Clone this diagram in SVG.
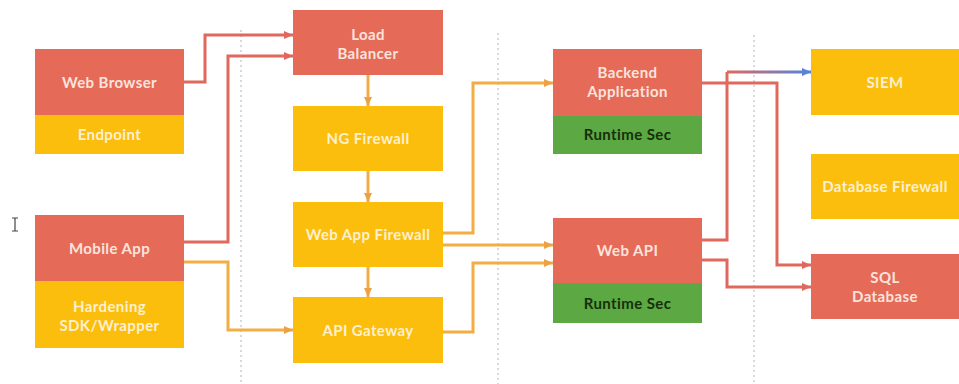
<svg xmlns="http://www.w3.org/2000/svg" width="959" height="384" viewBox="0 0 959 384">
<defs>
<style>
.red{fill:#e66a58}
.yel{fill:#fcbe0c}
.grn{fill:#5ca843}
.t{font-family:Lato,"Open Sans","Liberation Sans",sans-serif;font-weight:700;font-size:15px;letter-spacing:0.4px;text-anchor:middle;dominant-baseline:central}
.tl{fill:#f9e4dc}
.ty{fill:#fdf0d0}
.tg{fill:#16300c}
.div{stroke:#c9cdd5;stroke-width:1.5;stroke-dasharray:2 3;fill:none}
.cr{fill:none;stroke:#e0685d;stroke-width:3}
.co{fill:none;stroke:#f2ad46;stroke-width:3}
.cb{fill:none;stroke:url(#gb);stroke-width:3}
</style>
<linearGradient id="gb" gradientUnits="userSpaceOnUse" x1="727" y1="0" x2="805" y2="0">
<stop offset="0" stop-color="#e0685d"/>
<stop offset="1" stop-color="#5a82d8"/>
</linearGradient>
<marker id="ar" markerUnits="userSpaceOnUse" markerWidth="10" markerHeight="10" refX="9" refY="5" orient="auto"><path d="M0,1 L9,5 L0,9 Z" fill="#e0685d"/></marker>
<marker id="ao" markerUnits="userSpaceOnUse" markerWidth="10" markerHeight="10" refX="9" refY="5" orient="auto"><path d="M0,1 L9,5 L0,9 Z" fill="#eea045"/></marker>
<marker id="ab" markerUnits="userSpaceOnUse" markerWidth="10" markerHeight="10" refX="9" refY="5" orient="auto"><path d="M0,1 L9,5 L0,9 Z" fill="#5a82d8"/></marker>
</defs>
<rect width="959" height="384" fill="#ffffff"/>
<g id="dividers">
<line class="div" x1="241" y1="30" x2="241" y2="384"/>
<line class="div" x1="498" y1="33" x2="498" y2="384"/>
<line class="div" x1="754" y1="35" x2="754" y2="384"/>
</g>
<g id="connectors">
<path class="cr" d="M184,82 H205 V35 H293" marker-end="url(#ar)"/>
<path class="cr" d="M184,242 H228 V56 H293" marker-end="url(#ar)"/>
<path class="co" d="M184,262 H228 V330 H293" marker-end="url(#ao)"/>
<path class="co" d="M368,75 V106" marker-end="url(#ao)"/>
<path class="co" d="M368,171 V202" marker-end="url(#ao)"/>
<path class="co" d="M368,267 V297" marker-end="url(#ao)"/>
<path class="co" d="M443,233 H473 V83 H553" marker-end="url(#ao)"/>
<path class="co" d="M443,245 H553" marker-end="url(#ao)"/>
<path class="co" d="M443,332 H473 V263 H553" marker-end="url(#ao)"/>
<path class="cr" d="M702,83 H777 V265 H811" marker-end="url(#ar)"/>
<path class="cr" d="M702,240 H727 V72"/>
<path class="cb" d="M727,72 H811" marker-end="url(#ab)"/>
<path class="cr" d="M702,260 H727 V287 H811" marker-end="url(#ar)"/>
</g>
<g id="web-browser">
<rect class="red" x="35" y="49" width="149" height="66"/>
<rect class="yel" x="35" y="115" width="149" height="39"/>
<text class="t tl" x="109.5" y="82">Web Browser</text>
<text class="t ty" x="109.5" y="134">Endpoint</text>
</g>
<g id="mobile-app">
<rect class="red" x="35" y="215" width="149" height="66"/>
<rect class="yel" x="35" y="281" width="149" height="67"/>
<text class="t tl" x="109.5" y="248">Mobile App</text>
<text class="t ty" x="109.5" y="306">Hardening</text>
<text class="t ty" x="109.5" y="325">SDK/Wrapper</text>
</g>
<g id="load-balancer">
<rect class="red" x="293" y="10" width="150" height="65"/>
<text class="t tl" x="368" y="34">Load</text>
<text class="t tl" x="368" y="53">Balancer</text>
</g>
<g id="ng-firewall">
<rect class="yel" x="293" y="106" width="150" height="65"/>
<text class="t ty" x="368" y="138">NG Firewall</text>
</g>
<g id="web-app-firewall">
<rect class="yel" x="293" y="202" width="150" height="65"/>
<text class="t ty" x="368" y="234">Web App Firewall</text>
</g>
<g id="api-gateway">
<rect class="yel" x="293" y="297" width="150" height="66"/>
<text class="t ty" x="368" y="330">API Gateway</text>
</g>
<g id="backend-application">
<rect class="red" x="553" y="49" width="149" height="67"/>
<rect class="grn" x="553" y="116" width="149" height="38"/>
<text class="t tl" x="627.5" y="72">Backend</text>
<text class="t tl" x="627.5" y="91">Application</text>
<text class="t tg" x="627.5" y="134">Runtime Sec</text>
</g>
<g id="web-api">
<rect class="red" x="553" y="218" width="149" height="65"/>
<rect class="grn" x="553" y="283" width="149" height="40"/>
<text class="t tl" x="627.5" y="250">Web API</text>
<text class="t tg" x="627.5" y="303">Runtime Sec</text>
</g>
<g id="siem">
<rect class="yel" x="811" y="49" width="148" height="66"/>
<text class="t ty" x="885" y="82">SIEM</text>
</g>
<g id="database-firewall">
<rect class="yel" x="811" y="154" width="148" height="65"/>
<text class="t ty" x="885" y="186">Database Firewall</text>
</g>
<g id="sql-database">
<rect class="red" x="811" y="254" width="148" height="65"/>
<text class="t tl" x="885" y="277">SQL</text>
<text class="t tl" x="885" y="296">Database</text>
</g>
<g id="cursor" stroke="#444" stroke-width="1.2" fill="none">
<path d="M12,218 H18 M15,218 V231 M12,231 H18"/>
</g>
</svg>
